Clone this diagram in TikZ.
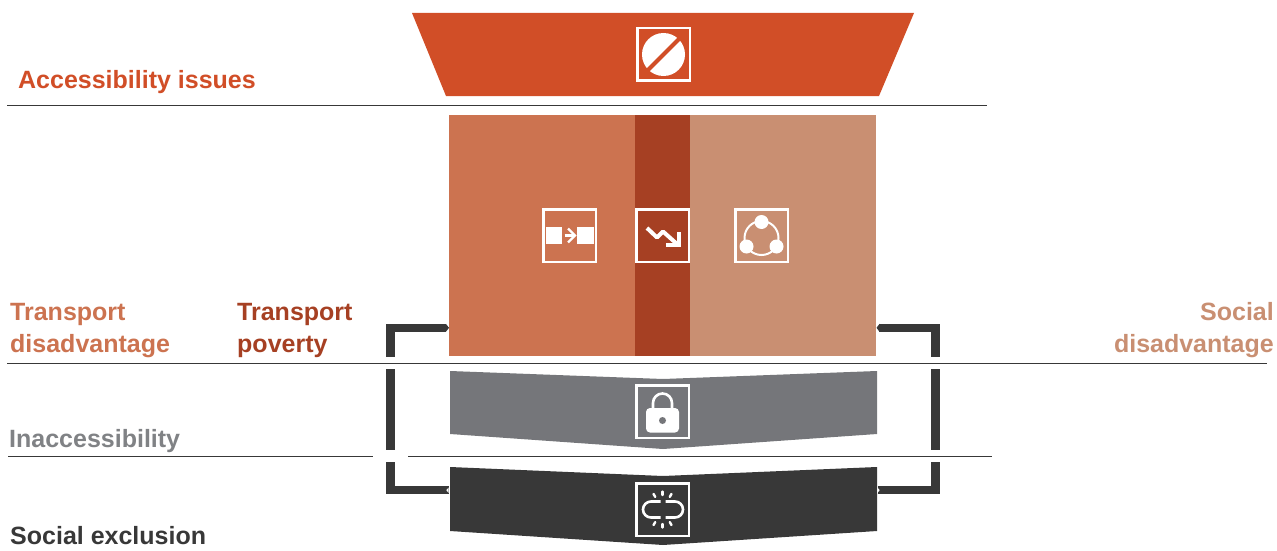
\documentclass[tikz,border=0pt]{standalone}
\usepackage{fontspec}
\setmainfont{Liberation Sans}
\usetikzlibrary{arrows.meta}
\definecolor{issueblock}{RGB}{209, 78, 39}
\definecolor{tdisblock}{RGB}{204, 115, 80}
\definecolor{povblock}{RGB}{166, 64, 35}
\definecolor{sdisblock}{RGB}{201, 143, 114}
\definecolor{inaccblock}{RGB}{117, 118, 122}
\definecolor{inacctext}{RGB}{128, 130, 133}
\definecolor{exclblock}{RGB}{56, 56, 56}
\tikzset{
	block/.style={inner sep=0pt, outer sep=0pt, minimum height=241pt},
	iconbox/.style={draw=white, line width=2.6pt, minimum size=52.6pt, inner sep=0pt, outer sep=0pt},
	heading/.style={anchor=base west, font=\fontsize{25}{30}\selectfont\bfseries, inner sep=0pt},
	headingr/.style={anchor=base east, font=\fontsize{25}{30}\selectfont\bfseries, inner sep=0pt},
	rule/.style={line width=1pt, exclblock},
	vbar/.style={line width=9pt, exclblock},
	hbar/.style={line width=7.5pt, exclblock},
	hbartip/.style={hbar, -{Triangle[length=3pt, width=7.5pt]}}
}
\begin{document}
\begin{tikzpicture}[x=1pt, y=-1pt]
	\useasboundingbox (0,0) rectangle (1277,551);

	\fill[issueblock] (412,13) -- (914,13) -- (879,96) -- (446,96) -- cycle;
	\node[heading, text=issueblock] (issues) at (18,88.5) {Accessibility issues};
	\draw[rule] (7,105.5) -- (987,105.5);

	\node[block, fill=tdisblock, minimum width=186pt] (tdis) at (542,235.5) {};
	\node[block, fill=povblock, minimum width=55pt] (pov) at (662.5,235.5) {};
	\node[block, fill=sdisblock, minimum width=186pt] (sdis) at (783,235.5) {};
	\node[heading, text=tdisblock] (tdist1) at (10,320) {Transport};
	\node[heading, text=tdisblock] (tdist2) at (10,352) {disadvantage};
	\node[heading, text=povblock] (povt1) at (237,320) {Transport};
	\node[heading, text=povblock] (povt2) at (237,352) {poverty};
	\node[headingr, text=sdisblock] (sdist1) at (1274,320) {Social};
	\node[headingr, text=sdisblock] (sdist2) at (1274,352) {disadvantage};
	\draw[rule] (7,363.5) -- (1267,363.5);

	\fill[inaccblock] (450,371) -- (663,379) -- (877,371) -- (877,434) -- (663,449) -- (450,434) -- cycle;
	\node[heading, text=inacctext] (inacc) at (9,447) {Inaccessibility};
	\draw[rule] (8,456) -- (373,456);
	\draw[rule] (408,456) -- (992,456);

	\fill[exclblock] (450,467) -- (663,476) -- (877,467) -- (877,531) -- (663,545) -- (450,531) -- cycle;
	\node[heading, text=exclblock] (excl) at (10,544) {Social exclusion};

	\coordinate (lefttop) at (390.5,324);
	\coordinate (leftmid) at (390.5,357);
	\coordinate (leftinacc) at (390.5,369);
	\coordinate (leftinaccb) at (390.5,450);
	\coordinate (leftexcl) at (390.5,462);
	\coordinate (leftexclb) at (390.5,494);
	\coordinate (righttop) at (935.5,324);
	\coordinate (rightmid) at (935.5,357);
	\coordinate (rightinacc) at (935.5,369);
	\coordinate (rightinaccb) at (935.5,450);
	\coordinate (rightexcl) at (935.5,462);
	\coordinate (rightexclb) at (935.5,494);
	\coordinate (tdisin) at (449,327.8);
	\coordinate (sdisin) at (876.5,327.8);
	\coordinate (exclinl) at (448.5,490.2);
	\coordinate (exclinr) at (877.5,490.2);

	\draw[vbar] (lefttop) -- (leftmid);
	\draw[vbar] (leftinacc) -- (leftinaccb);
	\draw[vbar] (leftexcl) -- (leftexclb);
	\draw[vbar] (righttop) -- (rightmid);
	\draw[vbar] (rightinacc) -- (rightinaccb);
	\draw[vbar] (rightexcl) -- (rightexclb);
	\draw[hbartip] (390.5,327.8) -- (tdisin);
	\draw[hbartip] (935.5,327.8) -- (sdisin);
	\draw[hbar] (390.5,490.2) -- (exclinl);
	\draw[hbar] (935.5,490.2) -- (exclinr);
	\fill[white] (448.6,487.5) -- (446.3,490.2) -- (448.6,492.9) -- cycle;
	\fill[white] (877.4,487.5) -- (879.7,490.2) -- (877.4,492.9) -- cycle;

	\node[iconbox] (noentry) at (663.5,54.5) {};
	\fill[white] (663.5,54.5) circle (21.5);
	\draw[issueblock, line width=4pt] (644,74) -- (683,35);

	\node[iconbox] (transfer) at (569.5,235.5) {};
	\fill[white] (546,227) rectangle (562,244);
	\fill[white] (577,227) rectangle (594,244);
	\draw[white, line width=2.2pt] (564.5,235.5) -- (575,235.5);
	\draw[white, line width=2.2pt] (568,228.5) -- (575,235.5) -- (568,242.5);

	\node[iconbox] (downtrend) at (662.5,235.5) {};
	\draw[white, line width=4pt, line join=round] (647,228) -- (657,237.5) -- (663,231.5) -- (677,244);
	\draw[white, line width=4pt] (679,232) -- (679,245) -- (666,245);

	\node[iconbox] (network) at (761.5,235.5) {};
	\draw[white, line width=2pt] (761.5,238) circle (17);
	\fill[white] (761.5,222) circle (7);
	\fill[white] (746.5,246.5) circle (7);
	\fill[white] (776.5,246.5) circle (7);

	\node[iconbox] (lock) at (662.5,411.5) {};
	\draw[white, line width=2.6pt] (653,410) -- (653,403) arc[start angle=180, end angle=360, radius=9.5] -- (672,410);
	\fill[white, rounded corners=4pt] (646,408) rectangle (679,432.5);
	\fill[inaccblock] (662.5,420.5) circle (3.5);

	\node[iconbox] (brokenlink) at (662.5,509.5) {};
	\draw[white, line width=2.6pt] (660.5,501.5) -- (651,501.5) arc[start angle=-90, end angle=-270, radius=8] -- (660.5,517.5);
	\draw[white, line width=2.6pt] (665.5,501.5) -- (675,501.5) arc[start angle=-90, end angle=90, radius=8] -- (665.5,517.5);
	\foreach \a in {60,90,120,-60,-90,-120} {
		\draw[white, line width=2.4pt, line cap=round] (662.5,509.5) ++(\a:14.5) -- ++(\a:3.5);
	}
\end{tikzpicture}
\end{document}
